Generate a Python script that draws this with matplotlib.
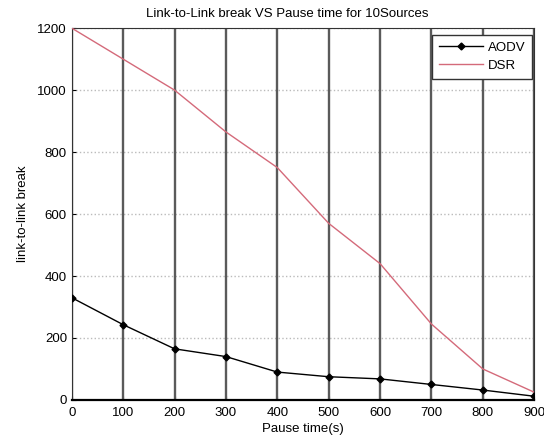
import matplotlib
matplotlib.use("Agg")
import matplotlib.pyplot as plt

pause_time = [0, 100, 200, 300, 400, 500, 600, 700, 800, 900]
aodv = [330, 243, 165, 140, 90, 75, 68, 50, 32, 12]
dsr = [1200, 1100, 1000, 865, 750, 570, 440, 245, 100, 25]

plt.rcParams["font.family"] = ["Liberation Sans", "DejaVu Sans"]
plt.rcParams["font.size"] = 9.5

fig = plt.figure(figsize=(5.44, 4.40), dpi=100)
ax = fig.add_axes([0.132, 0.091, 0.850, 0.845])

# matlab-ish grid: heavy vertical lines, faint dotted horizontal ones
for x in pause_time:
    ax.axvline(x, color="#5a5a5a", linewidth=1.7, zorder=1)
ax.yaxis.grid(True, color="#bbbbbb", linestyle=":", linewidth=1.0)
ax.set_axisbelow(True)

ax.plot(pause_time, aodv, color="black", marker="D", markersize=3.5,
        linewidth=1.0, label="AODV", zorder=3)
ax.plot(pause_time, dsr, color="#d46a7a", linewidth=1.0, label="DSR", zorder=3)

ax.set_xlim(0, 900)
ax.set_ylim(0, 1200)
ax.set_xticks(pause_time)
ax.set_yticks([0, 200, 400, 600, 800, 1000, 1200])
ax.tick_params(direction="in", length=3)
ax.tick_params(axis="x", pad=5)
for side in ax.spines.values():
    side.set_color("#333333")
ax.spines["bottom"].set_linewidth(1.6)
ax.spines["bottom"].set_color("black")

ax.set_xlabel("Pause time(s)", labelpad=3)
ax.set_ylabel("link-to-link break", labelpad=6)
fig.text(287 / 544, 1 - 14 / 440, "Link-to-Link break VS Pause time for 10Sources",
         ha="center", va="center", fontsize=9.5)

leg = ax.legend(loc="upper right", bbox_to_anchor=(532 / 544, 1 - 35 / 440),
                bbox_transform=fig.transFigure, borderaxespad=0,
                fancybox=False, framealpha=1, edgecolor="#333333",
                handlelength=3.3, handletextpad=0.4, borderpad=0.5,
                labelspacing=0.45)
leg.get_frame().set_linewidth(1.0)

fig.savefig("out.png", dpi=100)
